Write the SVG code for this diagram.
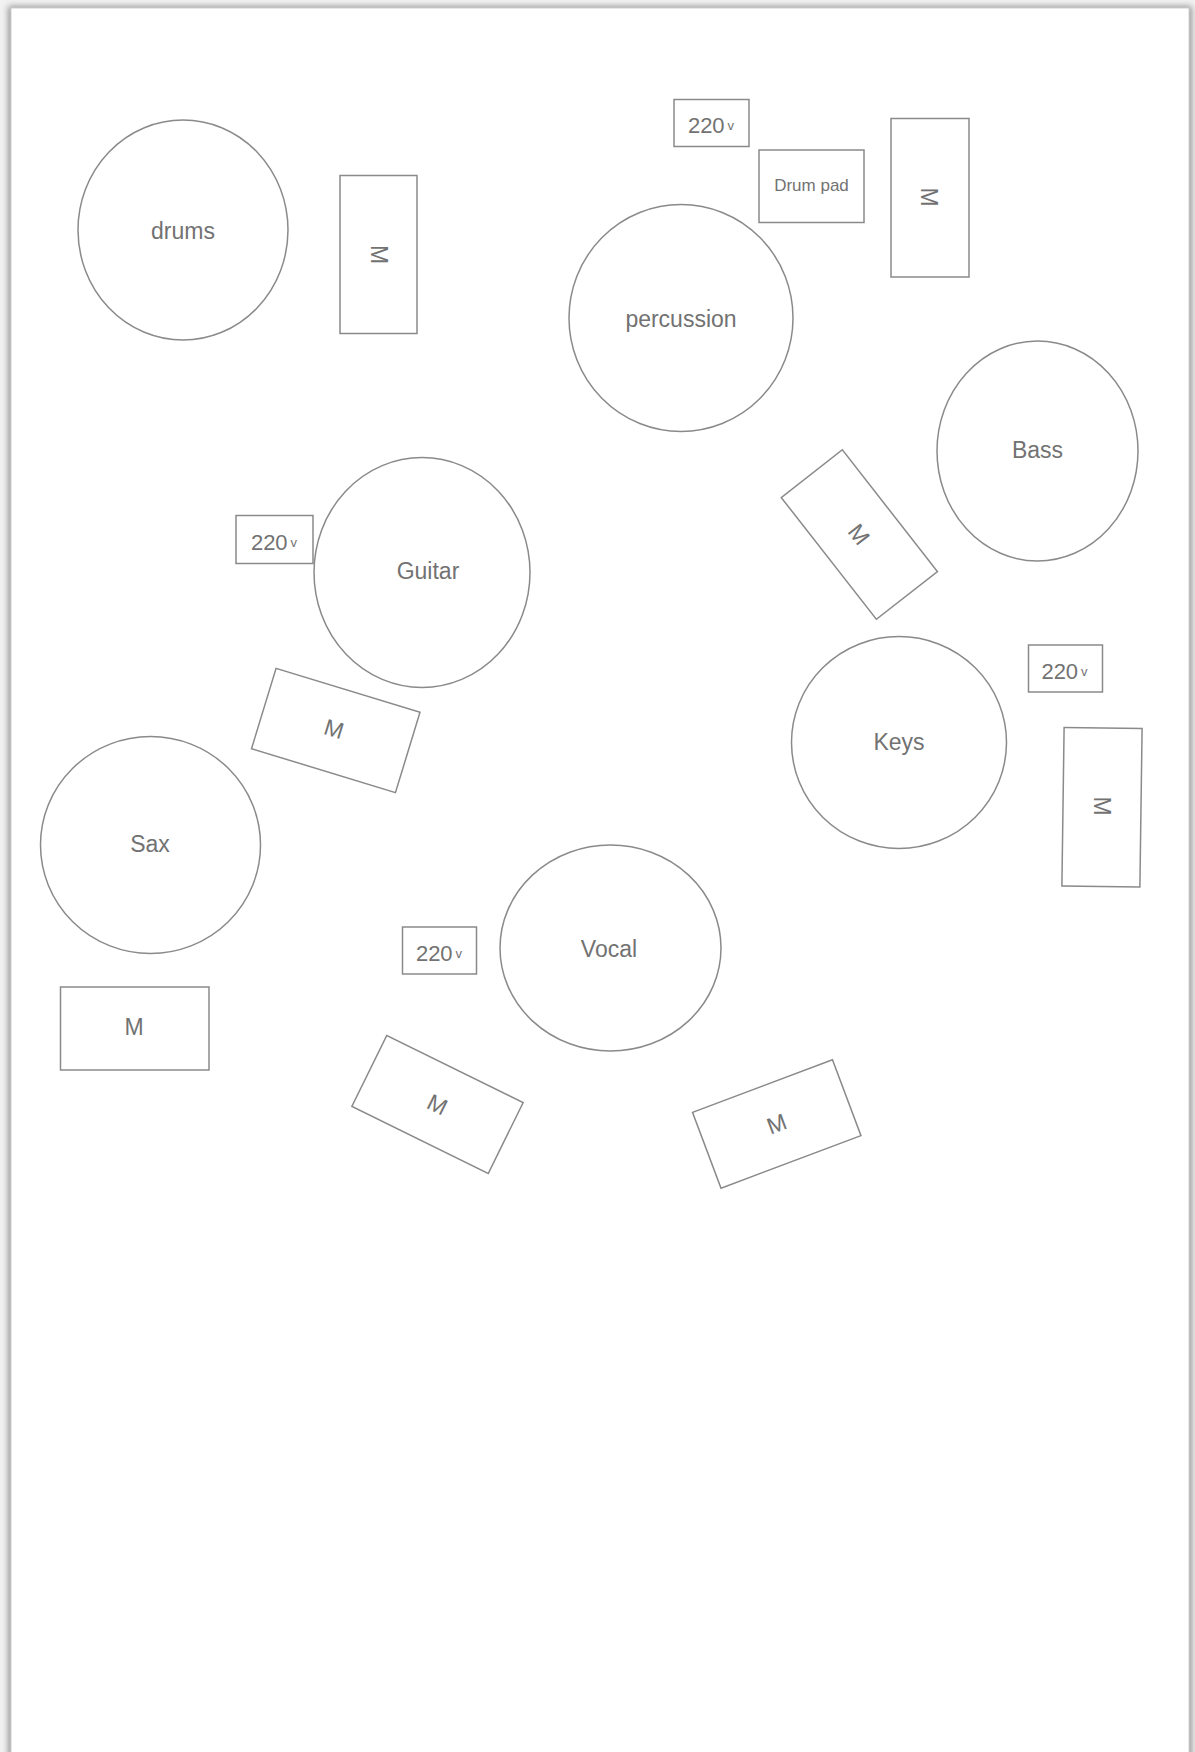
<svg xmlns="http://www.w3.org/2000/svg" width="1195" height="1752" viewBox="0 0 1195 1752">
  <style>
    .shape { fill: #ffffff; stroke: #8a8a8a; stroke-width: 1.5; }
    .lbl { font-family: "Liberation Sans", Arial, sans-serif; fill: #727272; text-anchor: middle; dominant-baseline: central; }
    .big { font-size: 23px; }
    .m { font-size: 23px; }
    .v { font-size: 22px; }
    .vs { font-size: 13px; }
    .pad { font-size: 17px; }
  </style>
  <defs>
    <filter id="shadow" x="-5%" y="-5%" width="110%" height="110%">
      <feGaussianBlur stdDeviation="3"/>
    </filter>
  </defs>
  <rect x="0" y="0" width="1195" height="1752" fill="#f2f2f2"/>
  <rect x="8" y="6" width="1184" height="1760" fill="#9a9a9a" filter="url(#shadow)"/>
  <rect x="11" y="8" width="1178" height="1760" fill="#ffffff" stroke="#d0d0d0" stroke-width="1"/>

  <g id="drums">
    <ellipse class="shape" cx="183" cy="230" rx="105" ry="110"/>
    <text class="lbl big" x="183" y="231">drums</text>
  </g>
  <g id="mon-drums">
    <rect class="shape" x="340" y="175.5" width="77" height="158"/>
    <text class="lbl m" x="378.5" y="254.5" transform="rotate(90 378.5 254.5)">M</text>
  </g>
  <g id="power-perc">
    <rect class="shape" x="674" y="99.5" width="75" height="47"/>
    <text class="lbl v" x="711" y="125"><tspan>220</tspan><tspan class="vs" dx="3">v</tspan></text>
  </g>
  <g id="drum-pad">
    <rect class="shape" x="759" y="150" width="105" height="72.5"/>
    <text class="lbl pad" x="811.5" y="185.5">Drum pad</text>
  </g>
  <g id="mon-perc">
    <rect class="shape" x="891" y="118.5" width="78" height="158.5"/>
    <text class="lbl m" x="929" y="197" transform="rotate(90 929 197)">M</text>
  </g>
  <g id="percussion">
    <ellipse class="shape" cx="681" cy="318" rx="112" ry="113.5"/>
    <text class="lbl big" x="681" y="318.5">percussion</text>
  </g>
  <g id="bass">
    <ellipse class="shape" cx="1037.5" cy="451" rx="100.5" ry="110"/>
    <text class="lbl big" x="1037.5" y="449.5">Bass</text>
  </g>
  <g id="mon-bass">
    <rect class="shape" x="782" y="495.5" width="154.5" height="77.5" transform="rotate(52 859 534.5)"/>
    <text class="lbl m" x="859" y="534.5" transform="rotate(52 859 534.5)">M</text>
  </g>
  <g id="power-guitar">
    <rect class="shape" x="236" y="515.5" width="77" height="48"/>
    <text class="lbl v" x="274" y="542"><tspan>220</tspan><tspan class="vs" dx="3">v</tspan></text>
  </g>
  <g id="guitar">
    <ellipse class="shape" cx="422" cy="572.5" rx="108" ry="115"/>
    <text class="lbl big" x="428" y="571">Guitar</text>
  </g>
  <g id="mon-guitar">
    <rect class="shape" x="260.5" y="688.5" width="150.5" height="84" transform="rotate(17 335.75 730.5)"/>
    <text class="lbl m" x="334" y="729" transform="rotate(17 334 729)">M</text>
  </g>
  <g id="power-keys">
    <rect class="shape" x="1028.5" y="645" width="74" height="47"/>
    <text class="lbl v" x="1064.5" y="671"><tspan>220</tspan><tspan class="vs" dx="3">v</tspan></text>
  </g>
  <g id="keys">
    <ellipse class="shape" cx="899" cy="742.5" rx="107.5" ry="106"/>
    <text class="lbl big" x="899" y="742">Keys</text>
  </g>
  <g id="mon-keys">
    <rect class="shape" x="1063" y="728" width="78" height="158.5" transform="rotate(0.8 1102 807)"/>
    <text class="lbl m" x="1101.5" y="806" transform="rotate(90 1101.5 806)">M</text>
  </g>
  <g id="sax">
    <ellipse class="shape" cx="150.5" cy="845" rx="110" ry="108.5"/>
    <text class="lbl big" x="150" y="844">Sax</text>
  </g>
  <g id="mon-sax">
    <rect class="shape" x="60.5" y="987" width="148.5" height="83"/>
    <text class="lbl m" x="134" y="1027">M</text>
  </g>
  <g id="power-vocal">
    <rect class="shape" x="402.5" y="927" width="74" height="47"/>
    <text class="lbl v" x="439" y="952.5"><tspan>220</tspan><tspan class="vs" dx="3">v</tspan></text>
  </g>
  <g id="vocal">
    <ellipse class="shape" cx="610.5" cy="948" rx="110.5" ry="103"/>
    <text class="lbl big" x="609" y="949">Vocal</text>
  </g>
  <g id="mon-vocal-left">
    <rect class="shape" x="361.5" y="1065" width="152" height="79" transform="rotate(26.2 437.5 1104.5)"/>
    <text class="lbl m" x="437.5" y="1104.5" transform="rotate(26.2 437.5 1104.5)">M</text>
  </g>
  <g id="mon-vocal-right">
    <rect class="shape" x="702" y="1083.5" width="149.5" height="81" transform="rotate(-20.6 776.75 1124)"/>
    <text class="lbl m" x="776.75" y="1124" transform="rotate(-20.6 776.75 1124)">M</text>
  </g>
  <g id="connectors"/>
</svg>
